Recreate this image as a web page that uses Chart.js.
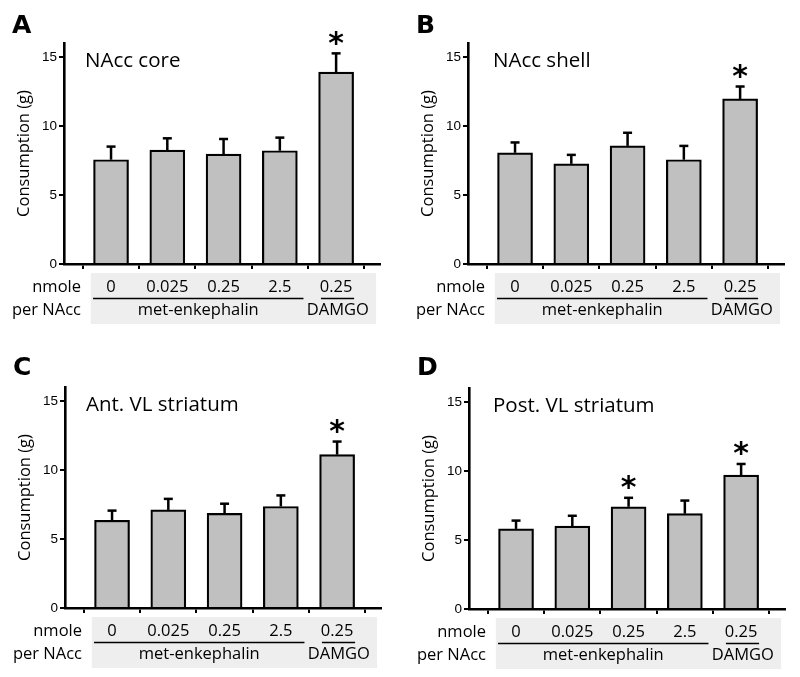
<!DOCTYPE html>
<html><head><meta charset="utf-8">
<script src="https://cdn.jsdelivr.net/npm/chart.js@4.4.1/dist/chart.umd.min.js"></script>
<style>
html,body{margin:0;padding:0;background:#fff;width:800px;height:677px;overflow:hidden;position:relative;}
.panel{position:absolute;width:400px;height:340px;}
canvas{display:block;}
</style></head><body>
<div class="panel" style="left:0px;top:0px"><canvas id="cA" width="400" height="340"></canvas></div>
<div class="panel" style="left:404px;top:0px"><canvas id="cB" width="400" height="340"></canvas></div>
<div class="panel" style="left:1px;top:344px"><canvas id="cC" width="400" height="340"></canvas></div>
<div class="panel" style="left:405px;top:345px"><canvas id="cD" width="400" height="340"></canvas></div>
<script>
// ---- data ----
const categories = [0, 1, 2, 3, 4];
const doses = ['0', '0.025', '0.25', '2.5', '0.25'];
const drugGroups = ['met-enkephalin', 'DAMGO'];
const rowLabels = ['nmole', 'per NAcc'];
const yTicks = [0, 5, 10, 15];
const yTitle = 'Consumption (g)';
const panelLetters = ['A', 'B', 'C', 'D'];
const regions = ['NAcc core', 'NAcc shell', 'Ant. VL striatum', 'Post. VL striatum'];

const meanA = [7.55, 8.25, 7.95, 8.2, 13.9];
const semA  = [0.95, 0.85, 1.1, 0.95, 1.35];
const sigA  = [0, 0, 0, 0, 1];

const meanB = [8.05, 7.25, 8.55, 7.55, 11.95];
const semB  = [0.75, 0.65, 0.95, 1.0, 0.9];
const sigB  = [0, 0, 0, 0, 1];

const meanC = [6.35, 7.1, 6.85, 7.35, 11.1];
const semC  = [0.7, 0.8, 0.7, 0.8, 0.95];
const sigC  = [0, 0, 0, 0, 1];

const meanD = [5.8, 6.0, 7.4, 6.9, 9.7];
const semD  = [0.6, 0.75, 0.65, 0.95, 0.8];
const sigD  = [0, 0, 1, 0, 1];

// ---- styling / layout ----
const LABEL_FONT = '"Open Sans", "Noto Sans", sans-serif';
const TICK_FONT = '"Liberation Sans", Arial, sans-serif';
const HEAVY_FONT = '"DejaVu Sans", sans-serif';
const INK = '#000';

function makePanel(canvasId, letter, region, means, sems, sig, titleDx, letterBase) {
  const annot = {
    id: 'annot',
    beforeDraw(chart) {
      const ctx = chart.ctx, xs = chart.scales.x, ca = chart.chartArea;
      ctx.save();
      ctx.fillStyle = '#eeeeee';
      const bx0 = xs.getPixelForValue(-0.36), bx1 = xs.getPixelForValue(4.71);
      ctx.fillRect(bx0, ca.bottom + 9, bx1 - bx0, 51);
      ctx.restore();
    },
    afterDatasetsDraw(chart) {
      const ctx = chart.ctx, xs = chart.scales.x, ys = chart.scales.y;
      ctx.save();
      ctx.strokeStyle = '#000';
      ctx.fillStyle = INK;
      ctx.font = 'bold 30px ' + HEAVY_FONT;
      const m = ctx.measureText('*');
      categories.forEach((c, i) => {
        const x = xs.getPixelForValue(c);
        const y0 = ys.getPixelForValue(means[i]);
        const y1 = ys.getPixelForValue(means[i] + sems[i]);
        ctx.lineWidth = 2.5;
        ctx.beginPath(); ctx.moveTo(x, y0); ctx.lineTo(x, y1); ctx.stroke();
        ctx.beginPath(); ctx.moveTo(x - 4.5, y1); ctx.lineTo(x + 4.5, y1); ctx.stroke();
        if (sig[i]) {
          const cy = y1 - 15;
          const base = cy + (m.actualBoundingBoxAscent - m.actualBoundingBoxDescent) / 2;
          ctx.textAlign = 'center';
          ctx.textBaseline = 'alphabetic';
          ctx.fillText('*', x, base);
        }
      });
      ctx.restore();
    },
    afterDraw(chart) {
      const ctx = chart.ctx, xs = chart.scales.x, ca = chart.chartArea;
      ctx.save();
      ctx.fillStyle = INK;
      // panel letter
      ctx.font = 'bold 25px ' + HEAVY_FONT;
      ctx.textAlign = 'left'; ctx.textBaseline = 'alphabetic';
      ctx.fillText(letter, 12, letterBase);
      // region title
      ctx.font = '20.5px ' + LABEL_FONT;
      ctx.textBaseline = 'middle';
      ctx.fillText(region, ca.left + titleDx, ca.top + 18);
      // dose labels
      ctx.font = '16.5px ' + LABEL_FONT;
      ctx.textAlign = 'center';
      categories.forEach((c, i) => {
        ctx.fillText(doses[i], xs.getPixelForValue(c), ca.bottom + 23);
      });
      // row labels
      ctx.textAlign = 'right';
      ctx.fillText(rowLabels[0], ca.left + 17, ca.bottom + 23);
      ctx.fillText(rowLabels[1], ca.left + 17, ca.bottom + 46);
      // group lines
      ctx.strokeStyle = '#000';
      ctx.lineWidth = 1.3;
      const yl = ca.bottom + 34.5;
      ctx.beginPath();
      ctx.moveTo(xs.getPixelForValue(-0.32), yl); ctx.lineTo(xs.getPixelForValue(3.42), yl);
      ctx.moveTo(xs.getPixelForValue(3.73), yl); ctx.lineTo(xs.getPixelForValue(4.32), yl);
      ctx.stroke();
      // group labels
      ctx.textAlign = 'center';
      ctx.fillText(drugGroups[0], xs.getPixelForValue(1.55), ca.bottom + 46);
      ctx.fillText(drugGroups[1], xs.getPixelForValue(4.03), ca.bottom + 46);
      ctx.restore();
    }
  };

  return new Chart(document.getElementById(canvasId), {
    type: 'bar',
    data: {
      datasets: [{
        data: categories.map((c, i) => ({ x: c, y: means[i] })),
        backgroundColor: '#c0c0c0',
        borderColor: '#000',
        borderWidth: 2.2,
        borderSkipped: 'start',
        barThickness: 35
      }]
    },
    options: {
      responsive: false,
      animation: false,
      devicePixelRatio: 1,
      layout: { padding: { left: 0, top: 43, right: 20, bottom: 0 } },
      plugins: { legend: { display: false }, tooltip: { enabled: false }, title: { display: false } },
      scales: {
        x: {
          type: 'linear',
          min: -0.836, max: 4.78,
          offset: false,
          afterBuildTicks: s => { s.ticks = categories.map(v => ({ value: v })); },
          afterFit: s => { s.height = 76; },
          ticks: { display: false },
          grid: { display: true, drawOnChartArea: false, drawTicks: true, tickLength: 5, color: '#000', lineWidth: 2 },
          border: { display: true, color: '#000', width: 2.6 }
        },
        y: {
          min: 0, max: 16,
          afterBuildTicks: s => { s.ticks = yTicks.map(v => ({ value: v })); },
          afterFit: s => { s.width = 64; },
          ticks: { font: { family: TICK_FONT, size: 13.5 }, color: INK, padding: 2 },
          grid: { display: true, drawOnChartArea: false, drawTicks: true, tickLength: 5, color: '#000', lineWidth: 2 },
          border: { display: true, color: '#000', width: 2.6 },
          title: { display: true, text: yTitle, font: { family: LABEL_FONT, size: 16.5 }, color: INK, padding: { top: 14, bottom: 0 } }
        }
      }
    },
    plugins: [annot]
  });
}

makePanel('cA', panelLetters[0], regions[0], meanA, semA, sigA, 21, 33);
makePanel('cB', panelLetters[1], regions[1], meanB, semB, sigB, 25, 33);
makePanel('cC', panelLetters[2], regions[2], meanC, semC, sigC, 21, 31);
makePanel('cD', panelLetters[3], regions[3], meanD, semD, sigD, 24, 30);
</script>
</body></html>
